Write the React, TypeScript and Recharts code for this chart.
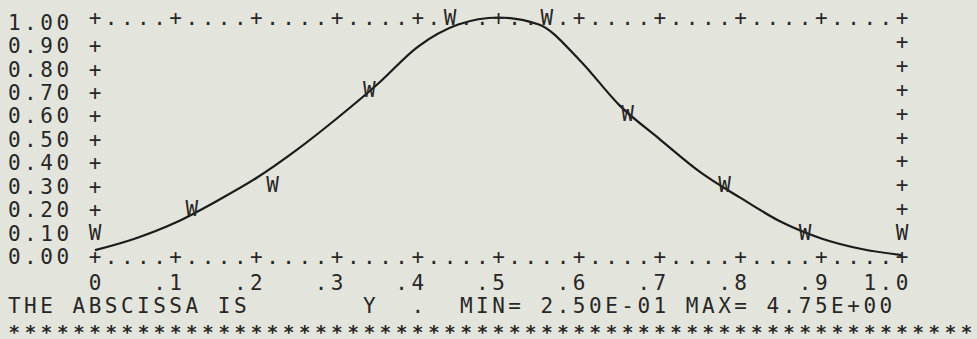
import { ComposedChart, Line, Scatter, XAxis, YAxis } from 'recharts';

// smooth curve
const curveX = [0, 0.05, 0.1, 0.15, 0.2, 0.25, 0.3, 0.35, 0.4, 0.45, 0.5, 0.55, 0.6, 0.65, 0.7, 0.75, 0.8, 0.85, 0.9, 0.95, 1.0];
const curveY = [0.027, 0.077, 0.145, 0.235, 0.335, 0.455, 0.59, 0.735, 0.895, 0.99, 1.02, 0.99, 0.84, 0.645, 0.5, 0.36, 0.25, 0.148, 0.077, 0.032, 0.006];

// plotted "W" characters (snapped to the printer grid)
const wX = [0, 0.12, 0.22, 0.34, 0.44, 0.56, 0.66, 0.78, 0.88, 1.0];
const wY = [0.1, 0.2, 0.3, 0.7, 1.0, 1.0, 0.6, 0.3, 0.1, 0.1];

const xTickLabels = ['0', '.1', '.2', '.3', '.4', '.5', '.6', '.7', '.8', '.9', '1.0'];
const yTickLabels = ['0.00', '0.10', '0.20', '0.30', '0.40', '0.50', '0.60', '0.70', '0.80', '0.90', '1.00'];
const abscissaLine = 'THE ABSCISSA IS       Y  .  MIN= 2.50E-01 MAX= 4.75E+00';
const starLine = '\u2217'.repeat(60);

const curveData = curveX.map((x, i) => ({ x, y: curveY[i] }));
const wData = wX.map((x, i) => ({ x, y: wY[i] }));
const xTicks = Array.from({ length: 51 }, (_, i) => i / 50);
const yTicks = yTickLabels.map(Number);

const W = 977;
const H = 339;
const PITCH = 16.14;
const INK = '#272727';
const BG = '#e3e4dc';
const FONT = '"DejaVu Sans Mono", "Liberation Mono", monospace';
const BASE = 7.5;

const hasW = (x: number, y: number) =>
  wData.some((d) => Math.abs(d.x - x) < 1e-6 && Math.abs(d.y - y) < 1e-6);

function Ch({ x, y, c }: { x: number; y: number; c: string }) {
  if (c === ' ') return null;
  if (c === '\u2217') {
    return (
      <text x={x} y={y + 6} textAnchor="middle" fontFamily={FONT} fontSize={19} fontWeight="bold" fill={INK}>
        {c}
      </text>
    );
  }
  return (
    <text x={x} y={y + BASE} textAnchor="middle" fontFamily={FONT} fontSize={21} fill={INK}>
      {c}
    </text>
  );
}

function Str({ x, y, s }: { x: number; y: number; s: string }) {
  return (
    <g>
      {s.split('').map((c, i) => (
        <Ch key={i} x={x + i * PITCH} y={y} c={c} />
      ))}
    </g>
  );
}

function BottomTick(props: any) {
  const { x, y, payload, index } = props;
  const major = index % 5 === 0;
  const label = major ? xTickLabels[index / 5] : '';
  return (
    <g>
      {!hasW(payload.value, 0) && <Ch x={x} y={y} c={major ? '+' : '.'} />}
      {major && <Str x={x - (label.length - 1) * PITCH} y={y + 26} s={label} />}
    </g>
  );
}

function TopTick(props: any) {
  const { x, y, payload, index } = props;
  if (hasW(payload.value, 1)) return null;
  return <Ch x={x} y={y} c={index % 5 === 0 ? '+' : '.'} />;
}

function LeftTick(props: any) {
  const { x, y, payload, index } = props;
  const v = payload.value;
  return (
    <g>
      <Str x={x - 5 * PITCH} y={y} s={yTickLabels[index]} />
      {v > 0 && v < 1 && !hasW(0, v) && <Ch x={x} y={y} c="+" />}
    </g>
  );
}

function RightTick(props: any) {
  const { x, y, payload } = props;
  const v = payload.value;
  if (v <= 0 || v >= 1 || hasW(1, v)) return null;
  return <Ch x={x} y={y} c="+" />;
}

function Footer(props: any) {
  const { viewBox } = props;
  const x0 = viewBox.x - 5 * (viewBox.width / 50);
  return (
    <g>
      <Str x={x0} y={viewBox.y + 48.5} s={abscissaLine} />
      <Str x={x0} y={viewBox.y + 72.5} s={starLine} />
    </g>
  );
}

function WMark(props: any) {
  const { cx, cy } = props;
  return <Ch x={cx} y={cy} c="W" />;
}

export default function App() {
  return (
    <div style={{ position: 'absolute', left: 0, top: 0, width: W, height: H, background: BG }}>
      <ComposedChart width={W} height={H} margin={{ top: 16.5, right: 74, bottom: 81.5, left: 94 }}>
        <XAxis
          xAxisId="b"
          dataKey="x"
          type="number"
          domain={[0, 1]}
          ticks={xTicks}
          interval={0}
          height={1}
          axisLine={false}
          tickLine={false}
          tickSize={0}
          tickMargin={0}
          tick={<BottomTick />}
          label={{ content: <Footer /> }}
        />
        <XAxis
          xAxisId="t"
          orientation="top"
          dataKey="x"
          type="number"
          domain={[0, 1]}
          ticks={xTicks}
          interval={0}
          height={1}
          axisLine={false}
          tickLine={false}
          tickSize={0}
          tickMargin={0}
          tick={<TopTick />}
        />
        <YAxis
          yAxisId="l"
          type="number"
          domain={[0, 1]}
          ticks={yTicks}
          interval={0}
          width={1}
          axisLine={false}
          tickLine={false}
          tickSize={0}
          tickMargin={0}
          tick={<LeftTick />}
        />
        <YAxis
          yAxisId="r"
          orientation="right"
          type="number"
          domain={[0, 1]}
          ticks={yTicks}
          interval={0}
          width={1}
          axisLine={false}
          tickLine={false}
          tickSize={0}
          tickMargin={0}
          tick={<RightTick />}
        />
        <Scatter
          xAxisId="t"
          yAxisId="r"
          data={wData}
          dataKey="y"
          shape={<WMark />}
          isAnimationActive={false}
        />
        <Line
          xAxisId="b"
          yAxisId="l"
          data={curveData}
          dataKey="y"
          type="monotone"
          stroke="#1b1b1b"
          strokeWidth={2.2}
          dot={false}
          activeDot={false}
          isAnimationActive={false}
        />
      </ComposedChart>
    </div>
  );
}
